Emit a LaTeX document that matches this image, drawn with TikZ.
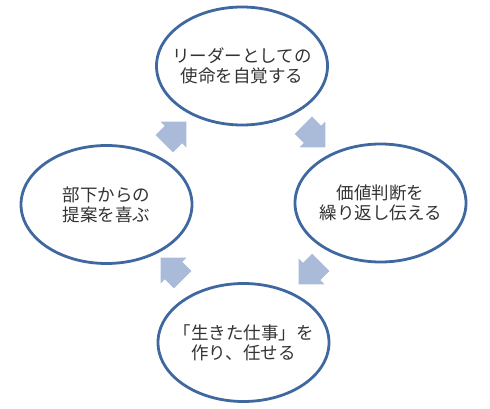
\documentclass[tikz,border=0pt]{standalone}
\usepackage{fontspec}
\newfontfamily\jpfont{Noto Sans CJK JP}
\usetikzlibrary{shapes.geometric,shapes.arrows}
\definecolor{ringblue}{RGB}{64,104,160}
\definecolor{arrowblue}{RGB}{170,186,217}
\begin{document}
\begin{tikzpicture}[x=1pt,y=-1pt,
  stage/.style={ellipse, draw=ringblue, line width=2.8pt, fill=white,
    minimum width=171pt, minimum height=118pt, inner sep=0pt},
  caption/.style={align=center, inner sep=0pt,
    font=\jpfont\fontsize{17.5pt}{20pt}\selectfont, text=black!80},
  flow/.style={single arrow, fill=arrowblue, draw=none, minimum height=31pt,
    inner xsep=0pt, inner ysep=12pt, single arrow head extend=6pt,
    single arrow tip angle=90}]
\useasboundingbox (0,0) rectangle (490,409);
\node[stage] (top) at (242,66) {};
\node[stage] (right) at (380.5,203) {};
\node[stage] (bottom) at (243.5,342.5) {};
\node[stage] (left) at (106.5,204.5) {};
\node[caption] (ttop) at (top.center) {リーダーとしての\\使命を自覚する};
\node[caption] (tright) at (right.center) {価値判断を\\繰り返し伝える};
\node[caption] (tbottom) at (bottom.center) {「生きた仕事」を\\作り、任せる};
\node[caption] (tleft) at (left.center) {部下からの\\提案を喜ぶ};
\node[flow, rotate=45] (a1) at (171,137) {};
\node[flow, rotate=-45] (a2) at (310,132) {};
\node[flow, rotate=-135] (a3) at (314,269) {};
\node[flow, rotate=135] (a4) at (176,273) {};
\end{tikzpicture}
\end{document}
